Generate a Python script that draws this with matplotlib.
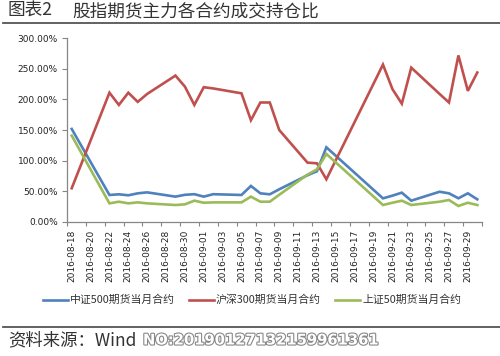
import matplotlib
matplotlib.use("Agg")
import matplotlib.pyplot as plt
import matplotlib.dates as mdates
import matplotlib.patheffects as pe
from matplotlib.ticker import FixedLocator, NullFormatter, FuncFormatter
import numpy as np
import pandas as pd

plt.rcParams['font.family'] = ['Noto Sans CJK SC', 'DejaVu Sans']

# ---- data ----
dates = ["2016-08-18", "2016-08-22", "2016-08-23", "2016-08-24", "2016-08-25",
         "2016-08-26", "2016-08-29", "2016-08-30", "2016-08-31", "2016-09-01",
         "2016-09-02", "2016-09-05", "2016-09-06", "2016-09-07", "2016-09-08",
         "2016-09-09", "2016-09-12", "2016-09-13", "2016-09-14", "2016-09-20",
         "2016-09-21", "2016-09-22", "2016-09-23", "2016-09-26", "2016-09-27",
         "2016-09-28", "2016-09-29", "2016-09-30"]
zz500 = [151.7, 43.7, 44.8, 43.2, 46.4, 48.0, 41.0, 44.0, 45.0, 41.0,
         45.0, 43.7, 58.5, 46.4, 44.8, 53.0, 76.0, 82.5, 121.7, 38.2,
         42.6, 47.5, 34.4, 49.0, 46.4, 38.3, 46.4, 36.6]
hs300 = [54.7, 211.0, 191.0, 211.0, 196.0, 209.0, 239.0, 221.0, 191.0, 220.0,
         218.0, 210.0, 166.0, 195.0, 195.0, 150.0, 96.6, 95.5, 69.4, 257.0,
         217.0, 193.0, 252.0, 209.0, 195.0, 272.0, 214.0, 244.0]
sz50 = [140.8, 30.0, 32.7, 30.0, 31.6, 30.0, 27.3, 28.4, 34.4, 31.0,
        31.6, 31.6, 41.0, 32.7, 32.7, 44.0, 77.0, 85.7, 110.8, 27.3,
        31.0, 34.4, 27.3, 32.7, 35.5, 25.7, 31.0, 27.3]
series_names = ["中证500期货当月合约", "沪深300期货当月合约", "上证50期货当月合约"]
series_colors = ["#4F81BD", "#C0504D", "#9BBB59"]
axis_start = "2016-08-18"
axis_end = "2016-09-30"
y_ticks = [0, 50, 100, 150, 200, 250, 300]
title_num = "图表2"
title_text = "股指期货主力各合约成交持仓比"
source_text = "资料来源：Wind"
watermark = "NO:20190127132159961361"

# ---- figure ----
W, H = 500, 356
fig = plt.figure(figsize=(W / 100, H / 100), dpi=100)
fig.patch.set_facecolor("white")

left, right, top, bottom = 67, 482, 38.3, 221.7
ax = fig.add_axes([left / W, 1 - bottom / H, (right - left) / W, (bottom - top) / H])

x = mdates.date2num(pd.to_datetime(dates))
for vals, name, col in zip([zz500, hs300, sz50], series_names, series_colors):
    ax.plot(x, vals, color=col, lw=1.9, label=name, solid_joinstyle="miter")

x0 = mdates.date2num(pd.Timestamp(axis_start))
x1 = mdates.date2num(pd.Timestamp(axis_end))
ax.set_xlim(x0 - 0.5, x1 + 0.5)
ax.set_ylim(0, 300)

# y axis
ax.set_yticks(y_ticks)
ax.yaxis.set_major_formatter(FuncFormatter(lambda v, p: f"{v:.2f}%"))
ax.tick_params(axis="y", length=3.5, width=0.8, color="#868686", pad=3,
               labelsize=6.5, labelcolor="#222222")

# x axis: tick marks at day boundaries every 2 days, labels on dates
major = np.arange(x0 - 0.5, x1 + 0.51, 2)
ax.xaxis.set_major_locator(FixedLocator(major))
ax.xaxis.set_major_formatter(NullFormatter())
label_days = np.arange(x0, x1, 2)
ax.xaxis.set_minor_locator(FixedLocator(label_days))
ax.xaxis.set_minor_formatter(FuncFormatter(lambda v, p: mdates.num2date(v).strftime("%Y-%m-%d")))
ax.tick_params(axis="x", which="major", length=3, width=0.8, color="#868686")
ax.tick_params(axis="x", which="minor", length=0, pad=6, labelsize=6.5,
               labelrotation=90, labelcolor="#222222")
for lab in ax.get_xticklabels(which="minor") + ax.get_yticklabels():
    lab.set_fontfamily("DejaVu Sans")

for s in ["top", "right"]:
    ax.spines[s].set_visible(False)
for s in ["left", "bottom"]:
    ax.spines[s].set_color("#868686")
    ax.spines[s].set_linewidth(0.9)

# legend
leg = fig.legend(loc="center", bbox_to_anchor=(0.504, 1 - 300 / H), ncol=3,
                 frameon=False, fontsize=7.8, handlelength=2.3, handletextpad=0.2,
                 columnspacing=1.3, borderaxespad=0)
for t in leg.get_texts():
    t.set_color("#333333")

# title
fig.text(8 / W, 1 - 11 / H, title_num, fontsize=12.7, color="#333333", va="center", ha="left")
fig.text(72 / W, 1 - 11 / H, title_text, fontsize=12.7, color="#333333", va="center", ha="left")
fig.add_artist(plt.Line2D([0.005, 1.0], [1 - 22.7 / H, 1 - 22.7 / H], color="#555555", lw=1.3))

# footer
fig.add_artist(plt.Line2D([0.005, 1.0], [1 - 326.7 / H, 1 - 326.7 / H], color="#555555", lw=1.3))
fig.text(8 / W, 1 - 340 / H, source_text, fontsize=12.5, color="#333333", va="center", ha="left")
fig.text(143 / W, 1 - 340 / H, watermark, fontsize=10.6, color="white", va="center", ha="left",
         fontfamily="DejaVu Sans", fontweight="bold",
         path_effects=[pe.Stroke(linewidth=1.6, foreground="#888888"), pe.Normal()])

fig.savefig("out.png", dpi=100, facecolor="white")
